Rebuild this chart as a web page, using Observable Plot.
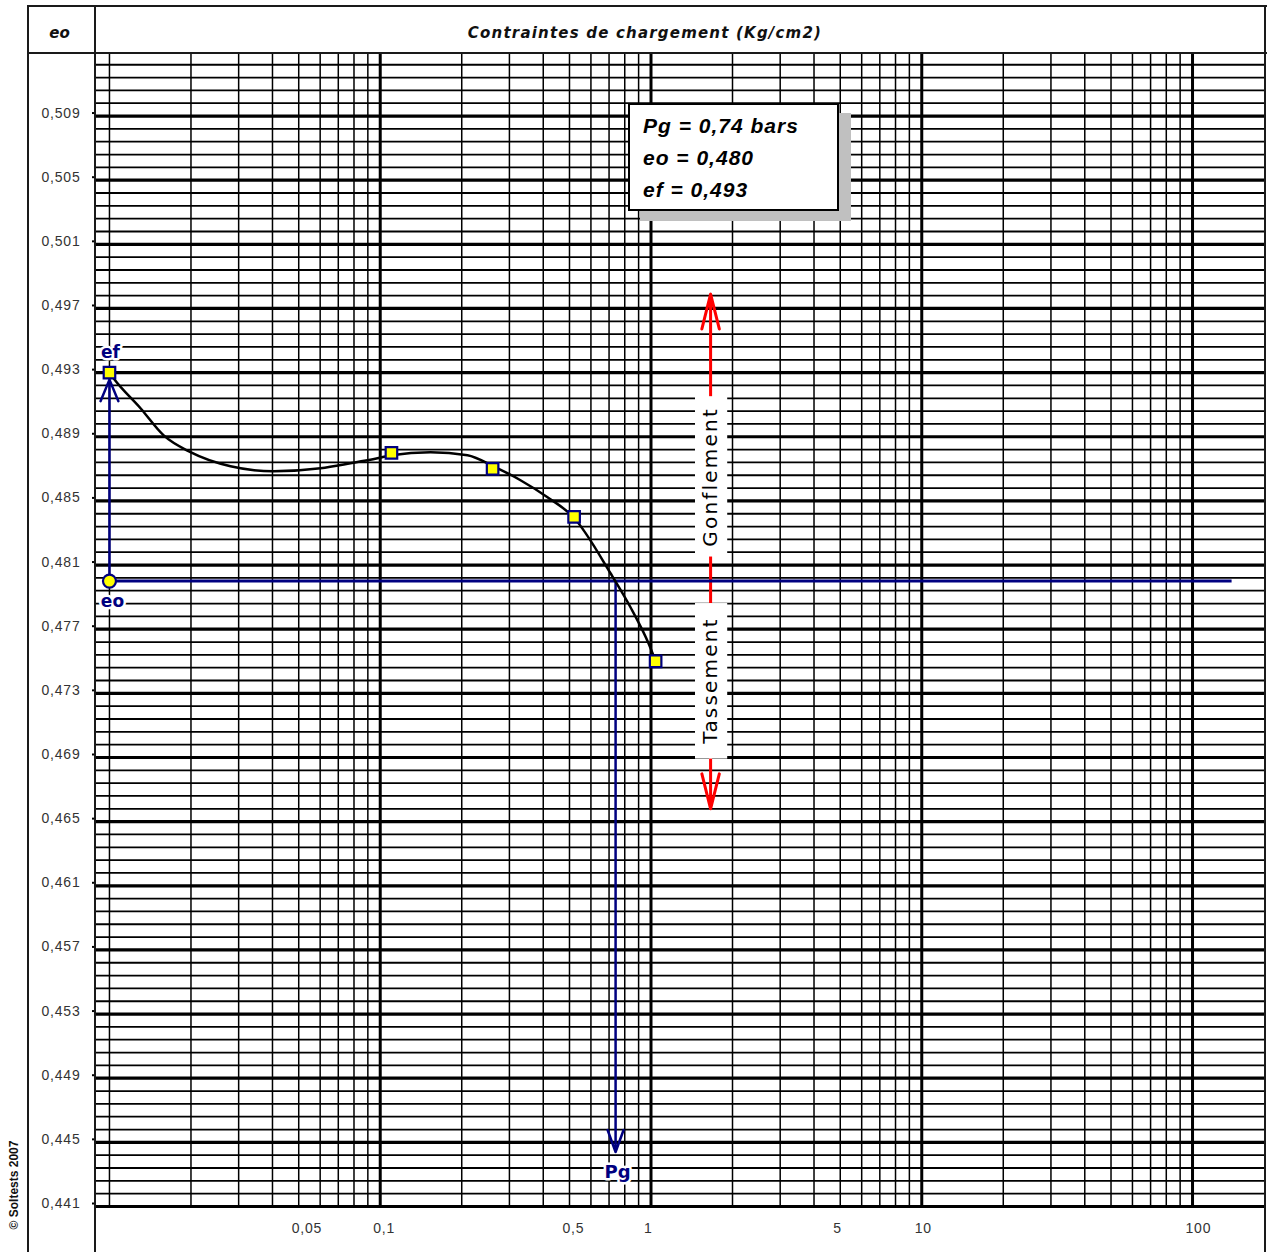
<!DOCTYPE html>
<html>
<head>
<meta charset="utf-8">
<script src="https://cdn.jsdelivr.net/npm/d3@7"></script>
<script src="https://cdn.jsdelivr.net/npm/@observablehq/plot@0.6"></script>
<style>
  html, body { margin: 0; padding: 0; background: #fff; }
  #wrap { position: relative; width: 1268px; height: 1252px; overflow: hidden; background: #fff; }
  #wrap svg { position: absolute; left: 0; top: 0; }
  .ln { position: absolute; background: #1a1a1a; pointer-events: none; }
  .hdr { position: absolute; font-family: "DejaVu Sans", sans-serif; font-weight: bold; font-style: italic; font-size: 15px; color: #111; white-space: nowrap; }
  #box { position: absolute; left: 628px; top: 103px; width: 211px; height: 108px; box-sizing: border-box;
         border: 2.5px solid #000; background: #fff; box-shadow: 12px 10px 0 #c0c0c0;
         font-family: "Liberation Sans", Arial, sans-serif; font-weight: bold; font-style: italic; font-size: 21px;
         line-height: 32px; padding: 5px 0 0 13px; color: #000; letter-spacing: 1px; }
  #copy { position: absolute; left: -41px; top: 1178px; width: 110px; text-align: center; transform: rotate(-90deg);
          font-family: "Liberation Sans", Arial, sans-serif; font-weight: bold; font-size: 12px; color: #111; white-space: nowrap; }
</style>
</head>
<body>
<div id="wrap"></div>
<script>
// ---------- data ----------
const yMajor = [0.509, 0.505, 0.501, 0.497, 0.493, 0.489, 0.485, 0.481, 0.477, 0.473, 0.469, 0.465, 0.461, 0.457, 0.453, 0.449, 0.445, 0.441];
const yLabels = ["0,509", "0,505", "0,501", "0,497", "0,493", "0,489", "0,485", "0,481", "0,477", "0,473", "0,469", "0,465", "0,461", "0,457", "0,453", "0,449", "0,445", "0,441"];
const yMinorStep = 0.0008;

const xDecades = [0.1, 1, 10, 100];
const xMinor = [0.01, 0.02, 0.03, 0.04, 0.05, 0.06, 0.07, 0.08, 0.09,
                0.2, 0.3, 0.4, 0.5, 0.6, 0.7, 0.8, 0.9,
                2, 3, 4, 5, 6, 7, 8, 9,
                20, 30, 40, 50, 60, 70, 80, 90];
const xTicks = [0.05, 0.1, 0.5, 1, 5, 10, 100];
const xLabels = ["0,05", "0,1", "0,5", "1", "5", "10", "100"];

// measured points (contrainte, indice des vides)
const pointX = [0.01, 0.11, 0.26, 0.52, 1.04];
const pointY = [0.493, 0.488, 0.487, 0.484, 0.475];

// fitted curve
const curveX = [0.01, 0.01035, 0.01302, 0.01582, 0.01992, 0.02799, 0.04035, 0.06017, 0.07766, 0.09769, 0.110, 0.1534, 0.2101, 0.262, 0.3296, 0.4147, 0.5173, 0.7087, 0.840, 0.979, 1.03];
const curveY = [0.493, 0.49265, 0.49078, 0.4891, 0.48804, 0.48716, 0.48685, 0.48704, 0.48735, 0.48766, 0.48785, 0.48804, 0.48785, 0.48716, 0.48629, 0.48523, 0.48398, 0.48049, 0.47837, 0.47612, 0.47519];

const eo = 0.480;
const ef = 0.493;
const Pg = 0.74;
const xStart = 0.01;
const eoLineEnd = 140;
const pgArrowEnd = 0.4444;

// Gonflement / Tassement annotation
const gtX = 1.66;
const gtBoxX = [1.46, 1.92];
const gtArrowTop = 0.4979, gtArrowMid = 0.4802, gtArrowBottom = 0.4658;
const gonflBox = [0.4815, 0.4915], tassBox = [0.4689, 0.4786];
const gonflY = 0.4865, tassY = 0.4738;

// ---------- derived tables ----------
const yMinor = d3.range(0, 91).filter(k => k % 5 !== 0).map(k => +(0.441 + k * yMinorStep).toFixed(4));
const points = pointX.map((x, i) => ({x, y: pointY[i]}));
const curve = curveX.map((x, i) => ({x, y: curveY[i]}));
const xTickRows = xTicks.map((x, i) => ({x, label: xLabels[i]}));

const navy = "#000080";
const red = "#ff0000";
const sans = "'Liberation Sans', Arial, sans-serif";

const chart = Plot.plot({
  width: 1268,
  height: 1252,
  marginTop: 53,
  marginRight: 3,
  marginBottom: 46,
  marginLeft: 95,
  style: {fontFamily: sans, background: "transparent", color: "#000"},
  x: {type: "log", domain: [0.00888, 186], axis: null},
  y: {domain: [0.441, 0.5129], axis: null},
  marks: [
    // grid
    Plot.ruleY(yMinor, {stroke: "#000", strokeWidth: 1.8}),
    Plot.ruleX(xMinor, {stroke: "#000", strokeWidth: 1.5}),
    Plot.ruleX(xDecades, {stroke: "#000", strokeWidth: 3}),
    Plot.ruleY(yMajor, {stroke: "#000", strokeWidth: 3.2}),
    // y axis
    Plot.axisY({ticks: yMajor, tickFormat: d => yLabels[yMajor.indexOf(d)], tickSize: 3, tickPadding: 12, fontSize: 14, fill: "#333", label: null, dy: -3, stroke: "#000", strokeWidth: 2}),
    // x tick labels
    Plot.text(xTickRows, {x: "x", y: () => 0.441, text: "label", dy: 22, dx: -7, textAnchor: "start", fontSize: 14, fill: "#333"}),
    // red swelling/settlement arrows
    Plot.arrow([0], {x1: gtX, x2: gtX, y1: gtArrowMid, y2: gtArrowTop, stroke: red, strokeWidth: 3, headLength: 18, headAngle: 28}),
    Plot.arrow([0], {x1: gtX, x2: gtX, y1: gtArrowMid, y2: gtArrowBottom, stroke: red, strokeWidth: 3, headLength: 18, headAngle: 28}),
    Plot.rect([gonflBox, tassBox], {x1: gtBoxX[0], x2: gtBoxX[1], y1: d => d[0], y2: d => d[1], fill: "#fff"}),
    Plot.text(["Gonflement"], {x: gtX, y: gonflY, text: d => d, rotate: -90, fontSize: 20, fill: "#000", fontFamily: "DejaVu Sans, sans-serif"}),
    Plot.text(["Tassement"], {x: gtX, y: tassY, text: d => d, rotate: -90, fontSize: 20, fill: "#000", fontFamily: "DejaVu Sans, sans-serif"}),
    // eo horizontal line
    Plot.ruleY([eo], {x1: xStart, x2: eoLineEnd, stroke: navy, strokeWidth: 3}),
    // ef vertical arrow
    Plot.arrow([0], {x1: xStart, x2: xStart, y1: eo, y2: ef, stroke: navy, strokeWidth: 2.5, headLength: 14, headAngle: 45, insetEnd: 7}),
    // Pg arrow
    Plot.arrow([0], {x1: Pg, x2: Pg, y1: eo, y2: pgArrowEnd, stroke: navy, strokeWidth: 2.5, headLength: 14, headAngle: 40}),
    // curve
    Plot.line(curve, {x: "x", y: "y", curve: "monotone-x", stroke: "#000", strokeWidth: 2.5}),
    // points
    Plot.dot(points, {x: "x", y: "y", symbol: "square", r: 6.5, fill: "#ffff00", stroke: navy, strokeWidth: 2.2}),
    Plot.dot([eo], {x: xStart, y: d => d, symbol: "circle", r: 6.5, fill: "#ffff00", stroke: navy, strokeWidth: 2.2}),
    // labels
    Plot.text(["ef"], {x: xStart, y: ef, text: d => d, dy: -20, dx: 1, fontSize: 17, fontWeight: "bold", fill: navy, stroke: "#fff", strokeWidth: 5, fontFamily: "DejaVu Sans, sans-serif"}),
    Plot.text(["eo"], {x: xStart, y: eo, text: d => d, dy: 20, dx: 3, fontSize: 17, fontWeight: "bold", fill: navy, stroke: "#fff", strokeWidth: 5, fontFamily: "DejaVu Sans, sans-serif"}),
    Plot.text(["Pg"], {x: Pg, y: pgArrowEnd, text: d => d, dy: 20, dx: 2, fontSize: 18, fontWeight: "bold", fill: navy, stroke: "#fff", strokeWidth: 5, fontFamily: "DejaVu Sans, sans-serif"})
  ]
});

// letter spacing for some labels
d3.select(chart).selectAll("text").filter(function() {
  const t = this.textContent; return t === "Gonflement" || t === "Tassement";
}).style("letter-spacing", "2.2px");
d3.select(chart).selectAll("text").filter(function() {
  return yLabels.includes(this.textContent);
}).style("letter-spacing", "0.8px");
d3.select(chart).selectAll("text").filter(function() {
  return xLabels.includes(this.textContent);
}).style("letter-spacing", "0.8px");

const wrap = document.getElementById("wrap");
wrap.appendChild(chart);

// frame lines and header
function line(l, t, w, h) {
  const d = document.createElement("div");
  d.className = "ln";
  Object.assign(d.style, {left: l + "px", top: t + "px", width: w + "px", height: h + "px"});
  wrap.appendChild(d);
}
line(27, 5, 1240, 2);     // top
line(27, 52, 1240, 2);    // header bottom
line(27, 5, 2, 1247);     // left outer
line(94, 5, 2, 1247);     // left column divider
line(1264, 5, 2, 1247);   // right

const h1 = document.createElement("div");
h1.className = "hdr"; h1.textContent = "eo";
Object.assign(h1.style, {left: "27px", width: "65px", top: "24px", textAlign: "center"});
wrap.appendChild(h1);

const h2 = document.createElement("div");
h2.className = "hdr"; h2.textContent = "Contraintes de chargement (Kg/cm2)";
Object.assign(h2.style, {left: "96px", width: "1098px", top: "24px", textAlign: "center", letterSpacing: "1.2px"});
wrap.appendChild(h2);

const box = document.createElement("div");
box.id = "box";
box.innerHTML = "Pg = 0,74 bars<br>eo = 0,480<br>ef = 0,493";
wrap.appendChild(box);

const cp = document.createElement("div");
cp.id = "copy"; cp.textContent = "© Soltests 2007";
wrap.appendChild(cp);
</script>
</body>
</html>
